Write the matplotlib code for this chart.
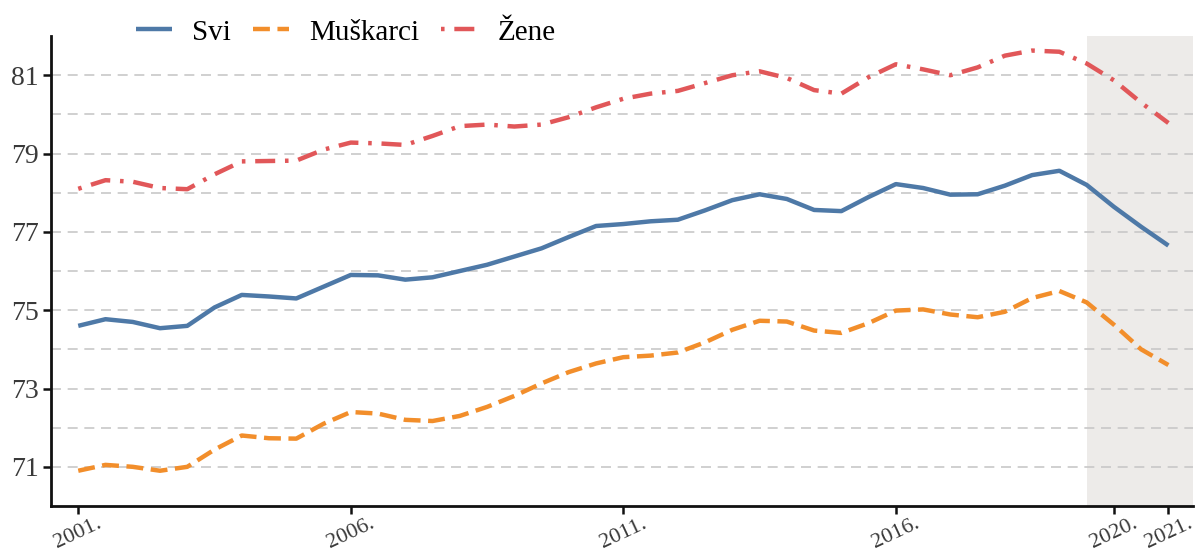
import numpy as np
import matplotlib
matplotlib.use("Agg")
import matplotlib.pyplot as plt

# half-year readings, 2001 - 2021
years = np.arange(2001, 2021.5, 0.5)

svi = [74.60, 74.77, 74.70, 74.54, 74.60, 75.07, 75.39, 75.35, 75.30, 75.60,
       75.90, 75.89, 75.78, 75.84, 76.00, 76.16, 76.37, 76.58, 76.87, 77.15,
       77.20, 77.27, 77.31, 77.55, 77.81, 77.96, 77.84, 77.56, 77.53, 77.89,
       78.22, 78.12, 77.95, 77.96, 78.18, 78.45, 78.56, 78.20, 77.64, 77.13,
       76.65]

muskarci = [70.90, 71.05, 71.00, 70.90, 71.00, 71.44, 71.80, 71.73, 71.72, 72.10,
            72.40, 72.36, 72.20, 72.17, 72.30, 72.53, 72.81, 73.13, 73.42, 73.64,
            73.80, 73.84, 73.92, 74.18, 74.50, 74.73, 74.71, 74.48, 74.42, 74.67,
            74.99, 75.02, 74.89, 74.82, 74.96, 75.31, 75.49, 75.20, 74.63, 74.00,
            73.60]

zene = [78.10, 78.32, 78.28, 78.12, 78.09, 78.47, 78.80, 78.81, 78.82, 79.10,
        79.28, 79.26, 79.22, 79.45, 79.70, 79.74, 79.69, 79.74, 79.93, 80.18,
        80.40, 80.53, 80.60, 80.80, 81.00, 81.10, 80.93, 80.62, 80.53, 80.95,
        81.28, 81.15, 81.00, 81.20, 81.50, 81.63, 81.60, 81.30, 80.87, 80.30,
        79.78]

xticks = [2001, 2006, 2011, 2016, 2020, 2021]
xlabels = ["2001.", "2006.", "2011.", "2016.", "2020.", "2021."]
yticks = [71, 73, 75, 77, 79, 81]
names = ["Svi", "Muškarci", "Žene"]

plt.rcParams['font.family'] = ['Liberation Serif', 'DejaVu Serif']

fig = plt.figure(figsize=(11.97, 5.55), dpi=100)
ax = fig.add_axes([0.0426, 0.0883, 0.954, 0.8467])

ax.set_xlim(2000.5, 2021.45)
ax.set_ylim(70, 82)

# shaded covid period
ax.axvspan(2019.5, 2021.45, color='#edebe9', lw=0, zorder=0)

# grid
for v in range(71, 82):
    ax.axhline(v, color='#c8c8c8', lw=1.2, ls=(0, (6, 4)), zorder=1)

lw = 3.2
ax.plot(years, svi, color='#4e79a7', lw=lw, solid_capstyle='butt', label=names[0], zorder=3)
ax.plot(years, muskarci, color='#f28e2b', lw=lw, ls=(0, (3.8, 1.7)), label=names[1], zorder=3)
ax.plot(years, zene, color='#e15759', lw=lw, ls=(0, (0.8, 2.2, 4.5, 2.2)), label=names[2], zorder=3)

ax.set_xticks(xticks)
ax.set_xticklabels(xlabels, rotation=25, ha='center', fontsize=16)
ax.set_yticks(yticks)
ax.tick_params(axis='both', colors='#111111', length=6, width=1.8, labelcolor='#3a3a3a')
ax.tick_params(axis='y', labelsize=20, pad=3)
ax.tick_params(axis='x', pad=0)

for s in ['top', 'right']:
    ax.spines[s].set_visible(False)
for s in ['left', 'bottom']:
    ax.spines[s].set_linewidth(2)
    ax.spines[s].set_color('#111111')

leg = ax.legend(loc='center', bbox_to_anchor=(0.258, 1.008), ncol=3, frameon=False,
                fontsize=21, handlelength=1.25, handletextpad=0.68, columnspacing=0.75,
                borderaxespad=0)

fig.savefig("out.png", dpi=100)
